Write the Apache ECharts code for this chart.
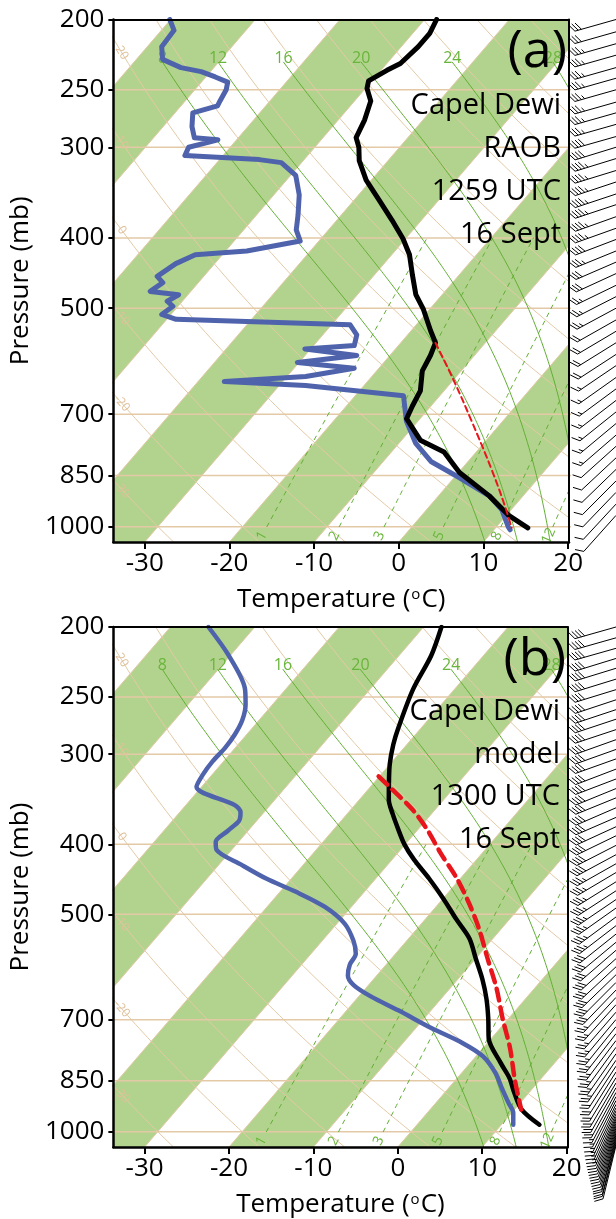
<!DOCTYPE html>
<html>
<head>
<meta charset="utf-8">
<script src="https://cdn.jsdelivr.net/npm/echarts@6/dist/echarts.min.js"></script>
<style>
html,body{margin:0;padding:0;background:#fff;}
#chart{width:616px;height:1219px;}
</style>
</head>
<body>
<div id="chart"></div>
<script>
// ---- Skew-T geometry ----
const P_BOT = 1050, P_TOP = 200, SKEW = 32;
const T_MIN = -33.7, T_MAX = 20.1;

// ---- axis ticks ----
const PRESS_TICKS = [200, 250, 300, 400, 500, 700, 850, 1000];
const TEMP_TICKS = [-30, -20, -10, 0, 10, 20];
const ISOBARS = [250, 300, 400, 500, 700, 850, 1000];
const DRY_THETA = [-30, -20, -10, 0, 10, 20, 30, 40, 50, 60, 70, 80, 90, 100, 110];
const DRY_LABELS = [-30, -20, -10, 0, 10, 20];
const MOIST_THW = [8, 12, 16, 20, 24, 28];
const MIX_W = [1, 2, 3, 5, 8, 12];

// ---- (a) radiosonde, 1259 UTC ----
const A_T_P = [200, 209, 218, 230, 235, 243, 249, 259, 275, 291, 300, 313, 333, 355, 378, 401, 422, 450, 479, 502, 537, 558, 581, 610, 650, 682, 710, 760, 789, 842, 907, 964, 1004];
const A_T   = [-48.6, -48.0, -48.0, -48.4, -49.3, -50.4, -49.8, -48.1, -46.9, -46.1, -44.8, -43.4, -40.6, -37.0, -33.5, -30.3, -27.9, -25.5, -23.1, -20.7, -17.7, -15.9, -15.2, -14.6, -12.8, -12.2, -11.6, -7.8, -3.8, 0.1, 6.0, 10.2, 13.8];
const A_TD_P = [200, 207, 218, 227, 233, 236, 240, 244, 250, 259, 263, 269, 281, 291, 293, 300, 308, 312, 315, 328, 349, 372, 390, 404, 417, 422, 434, 452, 461, 474, 479, 489, 497, 510, 518, 522, 527, 544, 563, 569, 581, 594, 605, 621, 631, 639, 660, 715, 768, 814, 855, 907, 948, 1001, 1010];
const A_TD   = [-80.1, -78.5, -78.3, -76.9, -73.9, -71.1, -68.9, -66.9, -66.3, -65.9, -65.7, -67.9, -66.6, -65.2, -62.2, -64.9, -64.5, -55.3, -52.4, -49.4, -47.0, -45.1, -43.8, -42.2, -47.5, -53.2, -54.6, -55.5, -54.2, -54.8, -51.1, -51.8, -50.6, -51.1, -48.9, -39.4, -27.8, -26.0, -25.2, -30.7, -23.9, -30.2, -22.9, -27.8, -36.9, -26.9, -14.3, -11.4, -8.0, -4.3, 0.5, 6.0, 8.9, 11.4, 11.9];
const A_PARCEL_P = [558, 629, 715, 836, 933, 1004];
const A_PARCEL   = [-15.9, -9.9, -3.7, 3.7, 8.7, 11.9];

// ---- (b) model, 1300 UTC ----
const B_T_P = [200, 219, 244, 276, 291, 310, 331, 347, 363, 381, 400, 420, 446, 476, 508, 540, 577, 615, 655, 697, 743, 803, 843, 884, 931, 978];
const B_T   = [-47.9, -46.2, -44.9, -42.7, -41.6, -40.0, -38.0, -36.5, -34.6, -32.4, -30.1, -27.4, -23.7, -19.9, -16.3, -12.8, -9.9, -7.1, -4.6, -2.4, -0.3, 3.6, 6.2, 8.3, 10.8, 14.5];
const B_TD_P = [200, 219, 244, 256, 269, 282, 294, 307, 320, 333, 353, 361, 371, 383, 397, 407, 427, 446, 465, 488, 515, 544, 567, 587, 608, 627, 650, 679, 719, 754, 786, 829, 870, 912, 942, 978];
const B_TD   = [-75.5, -70.2, -64.8, -63.2, -62.0, -61.4, -61.2, -61.3, -61.1, -60.6, -54.2, -52.8, -52.1, -52.4, -52.7, -51.8, -47.3, -43.0, -38.2, -33.2, -29.1, -26.3, -24.7, -24.3, -23.4, -21.7, -18.5, -13.9, -8.1, -2.9, 0.8, 4.0, 6.3, 8.6, 10.2, 11.4];
const B_PARCEL_P = [322, 336, 358, 381, 413, 446, 483, 523, 577, 633, 697, 766, 843, 898, 932];
const B_PARCEL   = [-40.1, -37.1, -32.7, -29.0, -24.7, -20.4, -16.4, -12.7, -8.5, -4.5, -0.7, 3.2, 6.8, 9.3, 10.8];

// ---- winds (kt, deg) ----
const A_WIND_P = [200, 208, 216, 224, 233, 241, 250, 260, 269, 279, 290, 300, 311, 323, 335, 348, 360, 374, 388, 402, 417, 432, 448, 465, 482, 500, 519, 538, 558, 579, 600, 623, 646, 670, 695, 721, 748, 775, 804, 834, 865, 897, 931, 965];
const A_WIND_SPD = [30, 30, 35, 35, 35, 35, 35, 35, 35, 35, 40, 40, 45, 45, 45, 45, 45, 45, 45, 40, 35, 30, 30, 25, 25, 25, 20, 20, 20, 20, 15, 15, 15, 15, 15, 15, 15, 10, 10, 10, 10, 10, 10, 10];
const A_WIND_DIR = [258, 258, 258, 258, 258, 258, 258, 258, 258, 258, 258, 257, 257, 257, 256, 256, 256, 255, 255, 254, 253, 252, 251, 250, 249, 248, 247, 246, 245, 244, 243, 242, 241, 240, 239, 238, 237, 236, 235, 234, 233, 232, 231, 230];
const B_WIND_P = [200, 207, 214, 221, 228, 236, 244, 252, 260, 268, 277, 286, 295, 304, 314, 324, 334, 344, 355, 366, 377, 388, 400, 412, 424, 436, 449, 462, 475, 488, 502, 516, 530, 544, 558, 573, 588, 603, 618, 633, 648, 663, 679, 695, 711, 727, 743, 759, 775, 791, 806, 821, 836, 850, 863, 876, 888, 899, 910, 920, 929, 938, 946, 953, 960, 967, 974, 981, 988, 995, 1002, 1009, 1016, 1023, 1030, 1037];
const B_WIND_SPD = [40, 40, 40, 40, 40, 40, 40, 40, 40, 40, 40, 40, 40, 40, 40, 40, 40, 40, 40, 40, 40, 40, 40, 40, 35, 35, 35, 35, 35, 35, 35, 35, 30, 30, 30, 30, 30, 30, 30, 30, 25, 25, 25, 25, 25, 25, 25, 25, 25, 25, 20, 20, 20, 20, 20, 20, 15, 15, 15, 15, 15, 15, 15, 10, 10, 10, 10, 10, 10, 10, 10, 10, 10, 10, 10, 10];
const B_WIND_DIR = [258, 258, 258, 257, 257, 257, 257, 256, 256, 256, 256, 255, 255, 255, 254, 254, 253, 253, 252, 252, 251, 250, 249, 248, 247, 246, 245, 244, 243, 242, 241, 240, 239, 238, 237, 236, 235, 234, 233, 232, 231, 230, 229, 228, 227, 226, 225, 224, 223, 222, 221, 220, 219, 218, 217, 216, 215, 214, 213, 212, 211, 210, 209, 208, 207, 206, 205, 204, 203, 202, 201, 200, 200, 199, 199, 198];

// ---- styling ----
const FONT = '"Open Sans", "Noto Sans", sans-serif';
const BAND = '#b2d38d';
const TAN = '#e3c9a6';
const TAN_TEXT = '#dfc09a';
const GREEN = '#62ae34';
const GREEN_TEXT = '#69b53b';
const BLUE = '#4f63ad';
const RED = '#e8151c';

const skewX = (t, p) => t + SKEW * Math.log(P_BOT / p);
const pt = (t, p) => [skewX(t, p), Math.log(p)];

// ---- thermodynamic helpers ----
function satVap(tc) { return 6.112 * Math.exp(17.67 * tc / (tc + 243.5)); }
function moistRate(p, T) {
  const Rd = 287.04, cp = 1005.7, Lv = 2.501e6, eps = 0.622;
  const es = satVap(T - 273.15);
  const rs = eps * es / (p - es);
  return ((Rd * T + Lv * rs) / p) / (cp + (Lv * Lv * rs * eps) / (Rd * T * T));
}
function moistPath(thw, pEnd, h) {
  let p = 1000, T = thw + 273.15;
  const out = [];
  while ((h < 0 && p > pEnd + 1e-6) || (h > 0 && p < pEnd - 1e-6)) {
    const k1 = moistRate(p, T);
    const k2 = moistRate(p + h / 2, T + h / 2 * k1);
    const k3 = moistRate(p + h / 2, T + h / 2 * k2);
    const k4 = moistRate(p + h, T + h * k3);
    T += h / 6 * (k1 + 2 * k2 + 2 * k3 + k4);
    p += h;
    out.push([p, T - 273.15]);
  }
  return out;
}
function moistLine(thw) {
  const up = moistPath(thw, 231, -3).reverse();
  const down = moistPath(thw, P_BOT, 3);
  return up.concat([[1000, thw]], down);
}
function dryT(theta, p) { return (theta + 273.15) * Math.pow(p / 1000, 0.2857) - 273.15; }
function mixT(w, p) {
  const e = w * p / (622 + w);
  const l = Math.log(e / 6.112);
  return 243.5 * l / (17.67 - l);
}

function lineSeries(xi, data, color, width, type, z) {
  return {
    type: 'line', xAxisIndex: xi, yAxisIndex: xi, data: data,
    showSymbol: false, symbol: 'none', silent: true, animation: false,
    lineStyle: { color: color, width: width, type: type || 'solid', cap: 'round', join: 'round' },
    z: z, clip: true
  };
}

function clipPoly(pts, x0, y0, x1, y1) {
  const inside = [p => p[0] >= x0, p => p[0] <= x1, p => p[1] >= y0, p => p[1] <= y1];
  const cut = [
    (a, b) => { const t = (x0 - a[0]) / (b[0] - a[0]); return [x0, a[1] + t * (b[1] - a[1])]; },
    (a, b) => { const t = (x1 - a[0]) / (b[0] - a[0]); return [x1, a[1] + t * (b[1] - a[1])]; },
    (a, b) => { const t = (y0 - a[1]) / (b[1] - a[1]); return [a[0] + t * (b[0] - a[0]), y0]; },
    (a, b) => { const t = (y1 - a[1]) / (b[1] - a[1]); return [a[0] + t * (b[0] - a[0]), y1]; }
  ];
  let out = pts;
  for (let k = 0; k < 4; k++) {
    const inp = out; out = [];
    for (let i = 0; i < inp.length; i++) {
      const cur = inp[i], prev = inp[(i + inp.length - 1) % inp.length];
      const ci = inside[k](cur), pi = inside[k](prev);
      if (ci) { if (!pi) out.push(cut[k](prev, cur)); out.push(cur); }
      else if (pi) out.push(cut[k](prev, cur));
    }
    if (!out.length) break;
  }
  return out;
}

// alternate 10-degree isotherm bands
const BAND_LOWS = [];
for (let t = -100; t <= 20; t += 20) BAND_LOWS.push(t);

function bandSeries(xi) {
  return {
    type: 'custom', xAxisIndex: xi, yAxisIndex: xi, silent: true, animation: false, z: 1,
    data: BAND_LOWS.map(t => [t, Math.log(P_BOT)]),
    renderItem: function (params, api) {
      const lo = BAND_LOWS[params.dataIndex], hi = lo + 10;
      const poly = [
        api.coord(pt(lo, P_BOT)), api.coord(pt(hi, P_BOT)),
        api.coord(pt(hi, P_TOP)), api.coord(pt(lo, P_TOP))
      ];
      const cs = params.coordSys;
      const c = clipPoly(poly, cs.x, cs.y, cs.x + cs.width, cs.y + cs.height);
      if (c.length < 3) return null;
      return { type: 'polygon', shape: { points: c }, style: { fill: BAND } };
    }
  };
}

function labelSeries(xi, items) {
  return {
    type: 'custom', xAxisIndex: xi, yAxisIndex: xi, silent: true, animation: false, z: 4,
    data: items.map(it => [it.x, it.y]),
    renderItem: function (params, api) {
      const it = items[params.dataIndex];
      const c = api.coord([it.x, it.y]);
      let rot = 0;
      if (it.dir) {
        const a = api.coord(it.dir[0]), b = api.coord(it.dir[1]);
        rot = -Math.atan2(b[1] - a[1], b[0] - a[0]);
      }
      return {
        type: 'text', x: c[0], y: c[1], rotation: rot,
        style: { text: it.text, fill: it.color, font: it.size + 'px ' + FONT, align: 'center', verticalAlign: 'middle' }
      };
    }
  };
}

function solveP(fx, target) {
  let lo = P_TOP - 60, hi = P_BOT + 60;
  for (let i = 0; i < 60; i++) {
    const mid = (lo + hi) / 2;
    const f = fx(mid) - target;
    const flo = fx(lo) - target;
    if ((f > 0) === (flo > 0)) lo = mid; else hi = mid;
  }
  return (lo + hi) / 2;
}

function backgroundSeries(xi) {
  const s = [bandSeries(xi)];
  // isotherms
  for (let t = -100; t <= 30; t += 10) {
    s.push(lineSeries(xi, [pt(t, P_BOT), pt(t, P_TOP)], TAN, 1, 'solid', 2));
  }
  // isobars
  ISOBARS.forEach(p => s.push(lineSeries(xi, [[T_MIN - 5, Math.log(p)], [T_MAX + 5, Math.log(p)]], TAN, 1.5, 'solid', 2)));
  // dry adiabats
  DRY_THETA.forEach(th => {
    const d = [];
    for (let p = P_TOP; p <= P_BOT; p += 10) d.push(pt(dryT(th, p), p));
    s.push(lineSeries(xi, d, TAN, 1, 'solid', 2));
  });
  // moist adiabats
  const labels = [];
  MOIST_THW.forEach(w => {
    const path = moistLine(w);
    s.push(lineSeries(xi, path.map(q => pt(q[1], q[0])), GREEN, 1, 'solid', 3));
    const top = path[0];
    labels.push({ x: skewX(top[1], top[0]), y: Math.log(226), text: String(w), color: GREEN_TEXT, size: 16 });
  });
  // mixing ratio lines
  MIX_W.forEach(w => {
    const d = [];
    for (let p = 1000; p >= 400; p -= 20) d.push(pt(mixT(w, p), p));
    s.push(lineSeries(xi, d, GREEN, 1, [4, 5], 3));
    labels.push({ x: skewX(mixT(w, 1030), 1030), y: Math.log(1030), text: String(w), color: GREEN_TEXT, size: 14,
      dir: [pt(mixT(w, 1040), 1040), pt(mixT(w, 1000), 1000)] });
  });
  // dry adiabat labels along the left edge
  DRY_LABELS.forEach(th => {
    const target = T_MIN + 1.0;
    const p = solveP(q => skewX(dryT(th, q), q), target);
    labels.push({ x: target, y: Math.log(p), text: String(th), color: TAN_TEXT, size: 12,
      dir: [pt(dryT(th, p - 10), p - 10), pt(dryT(th, p + 10), p + 10)] });
  });
  s.push(labelSeries(xi, labels));
  return s;
}

function profile(xi, ps, ts, color, width, type, z, smooth) {
  const sr = lineSeries(xi, ps.map((p, i) => pt(ts[i], p)), color, width, type, z);
  sr.smooth = smooth || false;
  return sr;
}

// wind barbs: staff drawn from the station point toward the wind source
function barbSeries(xi, ps, spd, dir) {
  return {
    type: 'custom', xAxisIndex: xi, yAxisIndex: xi, silent: true, animation: false, z: 5, clip: false,
    data: ps.map((p, i) => [1, Math.log(p), spd[i], dir[i]]),
    renderItem: function (params, api) {
      const base = api.coord([api.value(0), api.value(1)]);
      const d = api.value(3) * Math.PI / 180;
      const v = [42 * Math.sin(d), -56 * Math.cos(d)];
      const L = Math.hypot(v[0], v[1]);
      const u = [v[0] / L, v[1] / L];
      const n = [-u[1], u[0]];
      const f = [0.5 * u[0] + 0.866 * n[0], 0.5 * u[1] + 0.866 * n[1]];
      const fl = 9, sp = 3.4;
      const tail = [base[0] + v[0], base[1] + v[1]];
      const st = { stroke: '#000', lineWidth: 1 };
      const ch = [{ type: 'line', shape: { x1: base[0], y1: base[1], x2: tail[0], y2: tail[1] }, style: st }];
      let s = Math.round(api.value(2) / 5) * 5;
      let pos = 0;
      while (s >= 10) {
        const P = [tail[0] - pos * u[0], tail[1] - pos * u[1]];
        ch.push({ type: 'line', shape: { x1: P[0], y1: P[1], x2: P[0] + fl * f[0], y2: P[1] + fl * f[1] }, style: st });
        pos += sp; s -= 10;
      }
      if (s >= 5) {
        if (pos === 0) pos = sp;
        const P = [tail[0] - pos * u[0], tail[1] - pos * u[1]];
        ch.push({ type: 'line', shape: { x1: P[0], y1: P[1], x2: P[0] + fl * 0.5 * f[0], y2: P[1] + fl * 0.5 * f[1] }, style: st });
      }
      return { type: 'group', children: ch };
    }
  };
}

// ---- axes ----
const LN_MIN = Math.log(P_TOP), LN_MAX = Math.log(P_BOT);
const tickStyle = { color: '#000', width: 2 };
function mainX(g) {
  return {
    gridIndex: g, type: 'value', min: T_MIN, max: T_MAX, position: 'bottom', z: 10,
    axisLine: { show: true, onZero: false, lineStyle: { color: '#000', width: 2.5 } },
    axisTick: { show: true, customValues: TEMP_TICKS, length: 7, lineStyle: tickStyle },
    axisLabel: { customValues: TEMP_TICKS, formatter: v => String(Math.round(v)), color: '#000', fontSize: 26, fontFamily: FONT, margin: 9 },
    splitLine: { show: false },
    name: '{n|Temperature (}{s|o}{n|C)}', nameLocation: 'middle', nameGap: 45,
    nameTextStyle: { rich: { n: { fontSize: 26, fontFamily: FONT, color: '#000' }, s: { fontSize: 15, fontFamily: FONT, color: '#000', verticalAlign: 'top', padding: [0, 1, 0, 1] } } }
  };
}
function frameX(g) {
  return { gridIndex: g, type: 'value', min: T_MIN, max: T_MAX, position: 'top', z: 10,
    axisLine: { show: true, onZero: false, lineStyle: { color: '#000', width: 2 } },
    axisTick: { show: false }, axisLabel: { show: false }, splitLine: { show: false } };
}
function mainY(g) {
  return {
    gridIndex: g, type: 'value', min: LN_MIN, max: LN_MAX, inverse: true, position: 'left', z: 10,
    axisLine: { show: true, onZero: false, lineStyle: { color: '#000', width: 2.5 } },
    axisTick: { show: true, customValues: PRESS_TICKS.map(Math.log), length: 5, lineStyle: tickStyle },
    axisLabel: { customValues: PRESS_TICKS.map(Math.log), formatter: v => String(Math.round(Math.exp(v))), color: '#000', fontSize: 26, fontFamily: FONT, margin: 9 },
    splitLine: { show: false },
    name: 'Pressure (mb)', nameLocation: 'middle', nameGap: 57, nameRotate: 90,
    nameTextStyle: { fontSize: 26, fontFamily: FONT, color: '#000' }
  };
}
function frameY(g) {
  return { gridIndex: g, type: 'value', min: LN_MIN, max: LN_MAX, inverse: true, position: 'right', z: 10,
    axisLine: { show: true, onZero: false, lineStyle: { color: '#000', width: 2 } },
    axisTick: { show: false }, axisLabel: { show: false }, splitLine: { show: false } };
}
function hiddenX(g) { return { gridIndex: g, type: 'value', min: 0, max: 1, show: false }; }
function hiddenY(g) { return { gridIndex: g, type: 'value', min: LN_MIN, max: LN_MAX, inverse: true, show: false }; }

// axis index layout: 0 main(a), 1 frame(a), 2 main(b), 3 frame(b), 4 barbs(a), 5 barbs(b)
// series reference xAxisIndex === yAxisIndex, so keep the two lists aligned
const xAxes = [mainX(0), frameX(0), mainX(1), frameX(1), hiddenX(2), hiddenX(3)];
const yAxes = [mainY(0), frameY(0), mainY(1), frameY(1), hiddenY(2), hiddenY(3)];

const series = []
  .concat(backgroundSeries(0))
  .concat([
    profile(0, A_TD_P, A_TD, BLUE, 5, 'solid', 6),
    profile(0, A_T_P, A_T, '#000', 5, 'solid', 7),
    profile(0, A_PARCEL_P, A_PARCEL, RED, 2, [6, 4], 8, 0.4)
  ])
  .concat(backgroundSeries(2))
  .concat([
    profile(2, B_TD_P, B_TD, BLUE, 4.5, 'solid', 6, 0.3),
    profile(2, B_T_P, B_T, '#000', 4.5, 'solid', 7, 0.3),
    profile(2, B_PARCEL_P, B_PARCEL, RED, 4.5, [12, 7], 8, 0.3),
    barbSeries(4, A_WIND_P, A_WIND_SPD, A_WIND_DIR),
    barbSeries(5, B_WIND_P, B_WIND_SPD, B_WIND_DIR)
  ]);

function note(x, y, text, size) {
  return { type: 'text', x: x, y: y, z: 20,
    style: { text: text, font: size + 'px ' + FONT, fill: '#000', align: 'right', verticalAlign: 'middle' } };
}

const option = {
  backgroundColor: '#fff',
  animation: false,
  grid: [
    { left: 103, top: 19.5, width: 466, height: 522.5 },
    { left: 101.5, top: 627, width: 466, height: 522.5 },
    { left: 575, top: 19.5, width: 45, height: 522.5 },
    { left: 575, top: 627, width: 45, height: 522.5 }
  ],
  xAxis: xAxes,
  yAxis: yAxes,
  series: series,
  graphic: [
    note(567, 52, '(a)', 52),
    note(561, 106, 'Capel Dewi', 29),
    note(561, 149, 'RAOB', 29),
    note(561, 192, '1259 UTC', 29),
    note(561, 235, '16 Sept', 29),
    note(566, 660, '(b)', 52),
    note(560, 712, 'Capel Dewi', 29),
    note(560, 755, 'model', 29),
    note(560, 797, '1300 UTC', 29),
    note(560, 840, '16 Sept', 29)
  ]
};

const chart = echarts.init(document.getElementById('chart'), null, { renderer: 'canvas' });
chart.setOption(option);
</script>
</body>
</html>
